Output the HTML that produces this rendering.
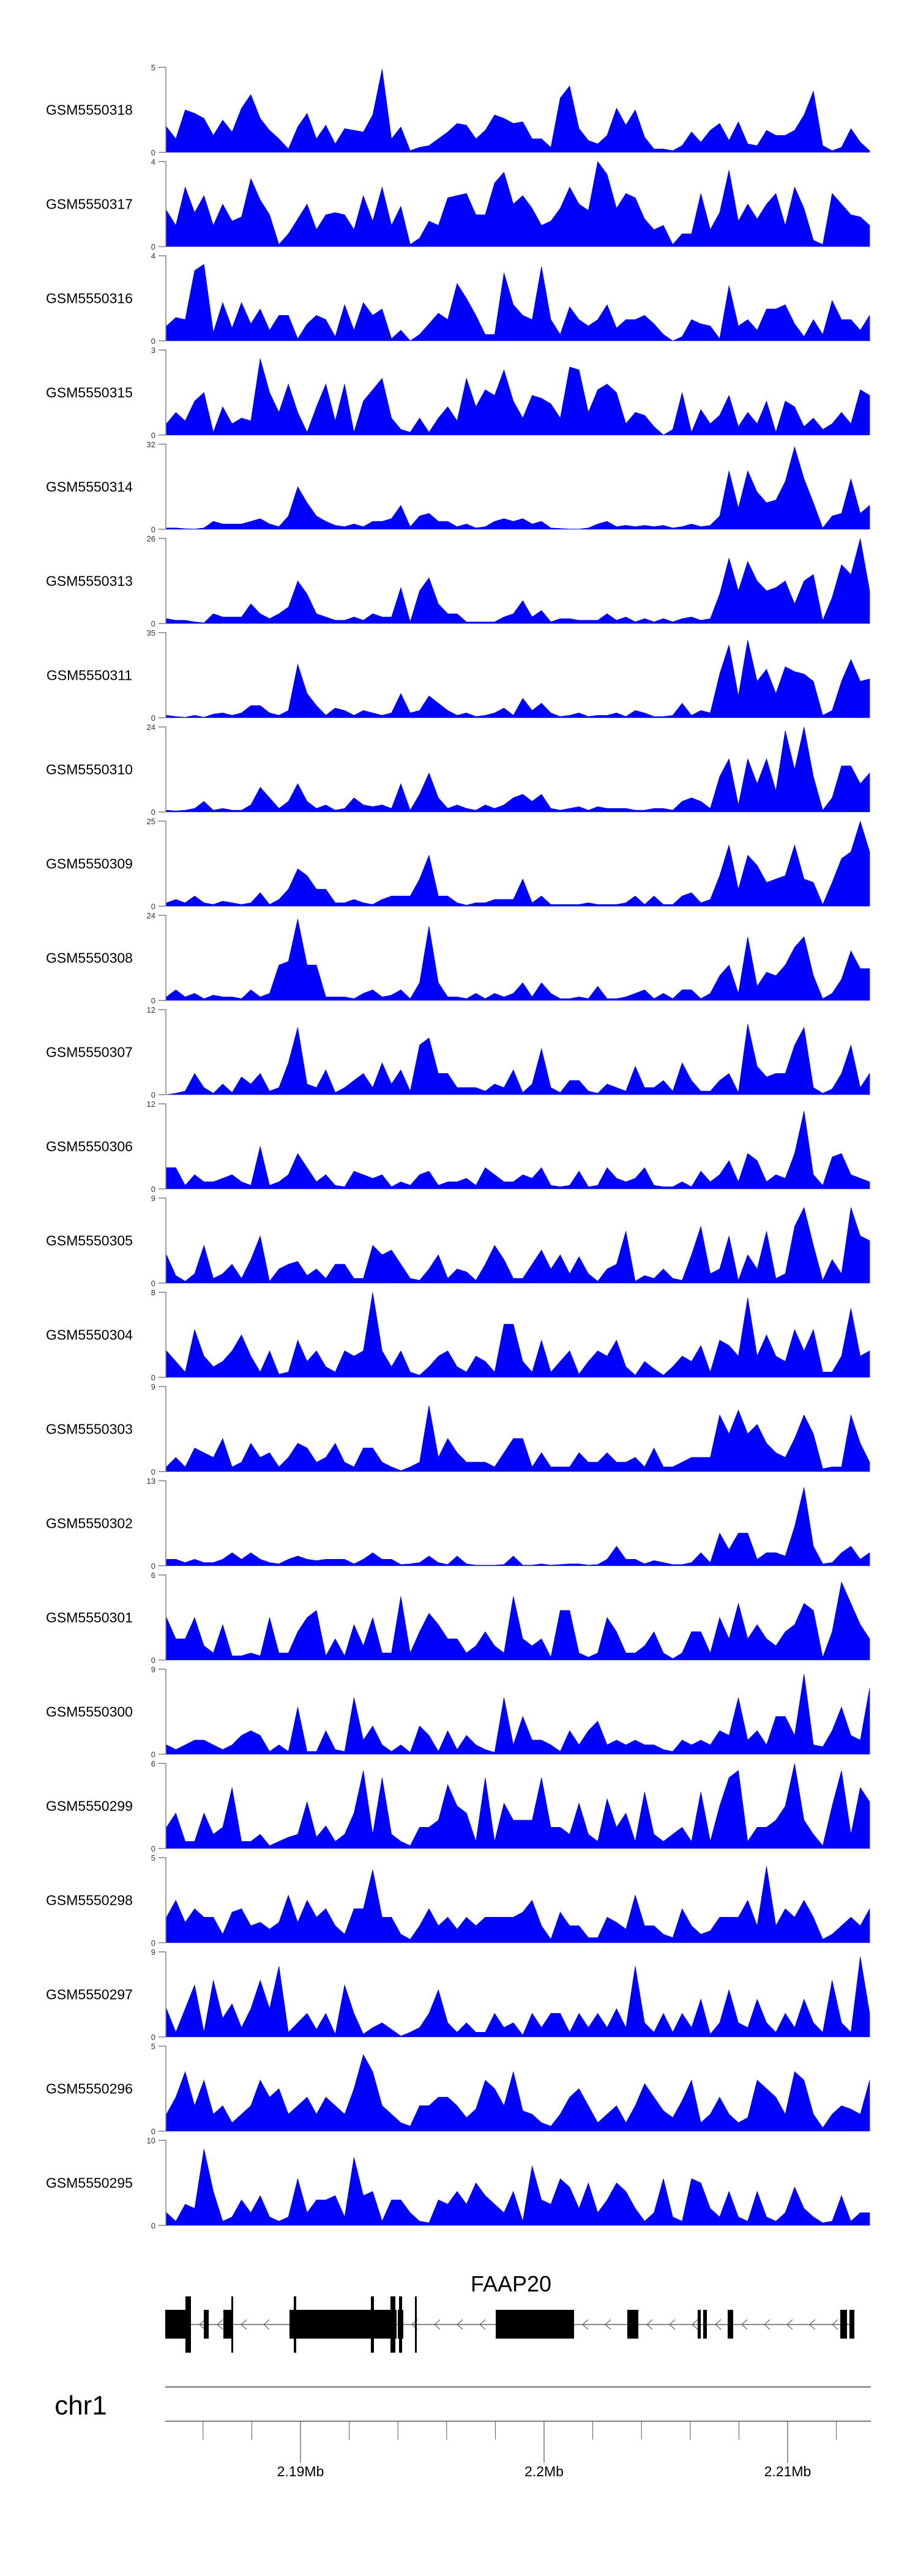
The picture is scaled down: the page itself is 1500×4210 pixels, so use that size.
<!DOCTYPE html>
<html><head><meta charset="utf-8">
<style>
html,body{margin:0;padding:0;background:#fff;}
svg{display:block;font-family:"Liberation Sans",Arial,sans-serif;}
</style></head>
<body>
<svg id="chart" width="1500" height="4210" viewBox="0 0 1500 4210" xmlns="http://www.w3.org/2000/svg">
<rect x="0" y="0" width="1500" height="4210" fill="#fff"/>
<g id="tracks"></g>
<g id="gene"></g>
<g id="ruler"></g>
</svg>
<script>
const sampleNames = ["GSM5550318","GSM5550317","GSM5550316","GSM5550315","GSM5550314","GSM5550313","GSM5550311","GSM5550310","GSM5550309","GSM5550308","GSM5550307","GSM5550306","GSM5550305","GSM5550304","GSM5550303","GSM5550302","GSM5550301","GSM5550300","GSM5550299","GSM5550298","GSM5550297","GSM5550296","GSM5550295"];
const yMax = [5,4,4,3,32,26,35,24,25,24,12,12,9,8,9,13,6,9,6,5,9,5,10];
const t318 = [1.5,0.8,2.5,2.3,2.0,1.0,1.9,1.2,2.6,3.4,2.0,1.3,0.8,0.2,1.5,2.3,0.8,1.6,0.5,1.4,1.3,1.2,2.2,4.9,0.8,1.5,0.1,0.3,0.4,0.8,1.2,1.7,1.6,0.8,1.3,2.2,2.0,1.7,1.8,0.8,0.8,0.3,3.2,3.9,1.4,0.7,0.5,1.0,2.6,1.6,2.5,0.9,0.2,0.2,0.1,0.4,1.2,0.6,1.3,1.7,0.7,1.8,0.5,0.4,1.3,1.0,1.0,1.3,2.2,3.6,0.4,0.1,0.3,1.4,0.6,0.1];
const t317 = [1.7,1.0,2.8,1.6,2.4,1.0,2.0,1.2,1.4,3.2,2.2,1.5,0.1,0.6,1.3,2.0,0.8,1.5,1.6,1.5,0.8,2.4,1.2,2.8,1.0,1.9,0.1,0.4,1.2,1.0,2.3,2.4,2.5,1.5,1.5,3.0,3.5,2.0,2.4,1.8,1.0,1.2,1.8,2.8,2.0,1.7,4.0,3.4,1.8,2.5,2.3,1.3,0.8,1.0,0.1,0.6,0.6,2.5,0.8,1.6,3.6,1.2,2.0,1.3,2.0,2.5,1.0,2.8,1.8,0.3,0.1,2.5,2.0,1.5,1.4,1.0];
const t316 = [0.7,1.1,1.0,3.3,3.6,0.4,1.8,0.6,1.8,0.8,1.5,0.5,1.2,1.2,0.1,0.8,1.2,1.0,0.2,1.7,0.5,1.8,1.2,1.5,0.1,0.5,0.0,0.3,0.8,1.3,1.0,2.7,2.0,1.2,0.3,0.3,3.2,1.7,1.2,1.0,3.5,1.0,0.3,1.6,1.0,0.7,1.0,1.7,0.6,1.0,1.0,1.2,0.8,0.3,0.0,0.2,1.0,0.8,0.7,0.1,2.6,0.7,1.0,0.5,1.5,1.5,1.7,0.8,0.2,1.0,0.3,1.9,1.0,1.0,0.5,1.2];
const t315 = [0.4,0.8,0.5,1.2,1.5,0.1,1.0,0.4,0.6,0.5,2.7,1.5,0.8,1.8,0.8,0.1,1.0,1.8,0.5,1.8,0.1,1.2,1.6,2.0,0.6,0.2,0.1,0.6,0.1,0.6,1.0,0.5,2.0,1.0,1.6,1.4,2.3,1.2,0.6,1.4,1.3,1.1,0.6,2.4,2.3,0.8,1.6,1.8,1.5,0.4,0.8,0.7,0.3,0.0,0.2,1.5,0.1,0.9,0.4,0.7,1.4,0.3,0.8,0.4,1.2,0.1,1.2,1.0,0.3,0.6,0.2,0.4,0.8,0.4,1.6,1.4];
const t314 = [0.5,0.5,0.2,0.1,0.5,3,2,2,2,3,4,2,1,5,16,10,5,3,1.5,1,2,1,3,3,4,9,1,5,6,3,3,1,2,0.5,1,3,4,3,4,2,3,0.5,0.3,0.1,0.1,0.5,2,3,1,1.5,1,1.5,1,1.5,0.5,1,2,1,1.5,5,22,8,22,14,10,11,18,31,19,10,0.5,5,6,19,6,9];
const t313 = [1.5,1,1,0.5,0.2,3,2,2,2,6,3,1.5,3,5,13,9,3,2,1,1,2,1,3,2,2,11,0.5,10,14,6,3,3,0.5,0.5,0.5,0.5,2,3,7,2,4,0.5,1.5,1.5,1,1,1,3,1,2,0.5,1.5,0.5,1.5,0.5,1.5,2,1,1.5,9,20,10,19,13,10,11,13,6,13,15,1,8,18,15,26,10];
const t311 = [1,0.5,0.2,1,0.2,1.5,2,1,2,5,5,2,1,3,22,10,5,1,4,3,1,3,2,1,2,10,2,3,9,6,3,1,2,0.5,1,2,4,1,8,3,6,2,0.5,1,2,0.5,1,1,2,0.5,3,2,0.5,0.5,1,6,1,3,2,18,30,9,32,15,20,10,21,19,18,15,1,3,15,24,15,16];
const t310 = [0.5,0.3,0.5,1,3,0.5,1,0.5,0.5,2,7,4,1,3,8,3,1,2,0.5,1,4,2,1.5,2,1,8,0.5,5,11,4,1,2,1,0.5,2,1,2,4,5,3,5,1,0.5,1,1.5,0.5,1.5,1,1,1,0.5,0.5,1,1,0.5,3,4,3,1,10,15,2,15,8,15,6,23,12,24,10,0.5,4,13,13,8,11];
const t309 = [1,2,1,3,1,0.5,1.5,1,0.5,1,4,0.5,2,5,11,9,5,5,1,1,2,1,0.5,2,3,3,3,8,15,3,3,1,0.3,1,1,2,2,2,8,1,3,0.5,0.5,0.5,0.5,1,0.5,0.5,0.5,1,3,0.5,3,0.5,0.5,3,4,1,2,9,18,5,15,12,7,8,9,18,8,7,0.5,7,14,16,25,16];
const t308 = [1,3,1,2,0.5,1.5,1,1,0.5,3,1,2,10,11,23,10,10,1,1,1,0.5,2,3,1,1.5,3,0.5,5,21,5,1,1,0.5,2,0.5,2,1,2,5,1,5,2,0.5,0.5,1,0.5,4,0.5,0.5,1,2,3,0.5,2,0.5,3,3,0.5,2,7,10,2,18,4,8,7,10,15,18,7,0.5,2,6,14,9,9];
const t307 = [0,0.2,0.5,3.0,1.0,0.2,1.5,0.3,2.5,1.5,3.0,0.5,1.0,4.5,9.5,1.5,1,3.5,0.3,1,2,3,1,4.5,1.5,3.5,0.5,7,8,3,3,1,1,1,0.5,1.5,1,3.5,0.3,1.5,6.5,1,0.3,2,2,0.5,0.2,1.5,1,0.5,4,1,1,2,0.5,4.5,2,0.5,0.5,2,3,0.3,10,4,2.5,3,3,7,9.5,1,0.2,0.8,3,7,1,3];
const t306 = [3,3,0.5,2,1,1,1.5,2,1,0.5,6,0.5,1,2,5,3,1,2,0.5,0.3,2.5,2,1.5,2,0.3,1,0.5,2,2.5,0.5,1,1,1.5,0.5,3,2,1,1,2,1.5,3,0.5,0.3,0.5,2.5,0.3,0.5,3,1.5,1,1.5,3,0.5,0.3,0.3,1,0.3,2.5,1,2,4,1,5,4,1,2,1.5,5,11,2,0.5,4.5,5,2,1.5,1];
const t305 = [3,0.8,0.2,1,4,0.5,1,2,0.5,2.5,5,0.2,1.5,2,2.3,0.8,1.5,0.5,2,2,0.5,0.5,4,3,3.5,2,0.5,0.3,1.5,3,0.5,1.5,1.2,0.3,2,4,2.5,0.5,0.5,2,3.5,1.5,3,1,2.8,1,0.2,1.5,2,5.5,0.2,0.8,0.5,1.5,0.5,0.3,3,6,1,1.5,5,0.3,3,1.5,5.5,0.5,1,6,8,4,0.3,2.5,1,8,5,4.5];
const t304 = [2.5,1.5,0.5,4.5,2,1,1.5,2.5,4,2,0.5,2.5,0.3,0.5,3.5,1.5,2.5,1,0.5,2.5,2,2.5,8,2.5,1,2.5,0.5,0.2,1,2,2.5,1,0.5,2,1.5,0.5,5,5,1.5,0.5,3.5,0.5,1.5,2.5,0.3,1.5,2.5,2,3.5,1,0.2,1.5,0.8,0.2,1,2,1.5,3,0.5,3.5,3,2,7.5,2,4,2,1.5,4.5,2.5,4.5,0.5,0.5,2,6.5,2,2.5];
const t303 = [0.5,1.5,0.5,2.5,2,1.5,3.5,0.5,1,3,1.5,2,0.5,1.5,3,2.5,1,1.5,3,1,0.5,2.5,2.5,1,0.5,0.1,0.5,1,7,1.5,3.5,2,1,1,1,0.5,2,3.5,3.5,0.5,2,0.5,0.5,0.5,2,1,1,2,1,1,1.5,0.5,2.5,0.5,0.5,1,1.5,1.5,1.5,6,4,6.5,4,5,3,2,1.5,3.5,6,4,0.3,0.5,0.5,6,3,1];
const t302 = [1,1,0.5,1,0.5,0.5,1,2,1,2,1,0.5,0.3,1,1.5,1,0.8,1,1,1,0.3,1,2,1,1,0.2,0.3,0.5,1.5,0.5,0.2,1.5,0.3,0.1,0.1,0.1,0.2,1.5,0.1,0.1,0.3,0.1,0.2,0.3,0.3,0.1,0.2,1,3,1,1,0.3,0.8,0.5,0.2,0.2,0.5,2,0.5,5,2.5,5,5,1,2,2,1.5,6,12,3,0.3,0.5,2,3,1,2];
const t301 = [3,1.5,1.5,3,1,0.5,2.5,0.3,0.3,0.5,0.3,3,0.5,0.5,2,3,3.5,0.3,1.5,0.3,2.5,1,3,0.5,0.5,4.5,0.5,2,3.3,2.5,1.5,1.5,0.5,1,2,1,0.5,4.5,1.5,1,1.5,0.2,3.5,3.5,0.5,0.2,0.5,3,2,0.5,0.5,1,2,0.5,0.1,0.5,2,2,0.5,3,1.5,4,1.5,2.5,1.5,1,2,2.5,4,3.5,0.2,2,5.5,4,2.5,1.5];
const t300 = [1,0.5,1,1.5,1.5,1,0.5,1,2,2.5,2,0.3,1,0.3,5,0.3,0.3,2.5,0.5,0.3,6,1.5,3,1,0.3,1,0.2,3,2,0.3,2.5,0.5,2,1,0.5,0.2,6,1,4,1.5,1.5,1,0.3,2.5,1,2.5,3.5,1,1.5,1,1.5,1,1,0.5,0.3,1.5,1,1.5,1,2.5,2,6,1.5,2.5,1,4,4,2,8.5,1,0.8,2.5,5,2,1.5,7];
const t299 = [1.5,2.5,0.5,0.5,2.5,1,1.5,4.3,0.5,0.5,1,0.2,0.5,0.8,1,3.3,0.8,1.6,0.5,1,2.5,5.5,1,5,1,0.5,0.2,1.5,1.5,2,4.5,3,2.5,0.5,5,0.5,3.2,2,2,2,5,1.5,1.5,1,3.2,1,0.5,3.5,1.5,2.5,0.5,4,1,0.5,1,1.5,0.5,4,0.5,3,5,5.5,0.5,1.5,1.5,2,3,6,2,1,0.2,3,5.5,1,4.3,3.3];
const t298 = [1.5,2.5,1.2,2,1.5,1.5,0.5,1.8,2,1,1.2,0.8,1.2,2.8,1.2,2.5,1.5,2,1,0.5,2,2,4.3,1.5,1.5,0.5,0.2,1,2,1,1.5,0.8,1.5,1,1.5,1.5,1.5,1.5,1.8,2.5,1,0.2,1.8,1,1,0.3,0.3,1.5,1.2,0.8,2.8,1,1,0.5,0.3,2,1,0.5,0.7,1.5,1.5,1.5,2.5,1,4.5,1,2,1.5,2.5,1.5,0.2,0.5,1,1.5,1,2];
const t297 = [3,0.5,3,5.5,0.5,6,2,3.5,1,3,6,3,7.5,0.5,1.5,2.5,0.8,2.5,0.3,5.5,2.5,0.3,1,1.5,0.8,0.1,0.5,1,2.5,5,1.5,0.5,1.5,0.5,0.5,2.5,1,1.5,0.2,2.5,1,2.5,2.5,0.5,2.5,1,2.5,1,3,1,7.5,1.5,0.5,2.5,0.5,2.5,1,4,0.3,1.5,5,1.5,1,4,1.5,0.5,2.5,1,4,1.5,0.5,6,1.5,0.5,8.5,2.5];
const t296 = [1,2,3.5,1.5,3,1,1.5,0.5,1,1.5,3,2,2.5,1,1.5,2,1,2,1.5,1,2.5,4.5,3.5,1.5,1,0.5,0.3,1.5,1.5,2,2,1.5,0.8,1.3,3,2.5,1.5,3.5,1.2,1,0.5,0.3,1,2,2.5,1.5,0.5,1,1.5,0.5,1.5,2.8,2,1.2,0.8,1.8,3,0.5,1,2,1,0.5,0.8,3,2.5,2,1,3.5,3,1,0.2,1,1.5,1.3,1,3];
const t295 = [1.5,0.5,2.5,2,9,4,0.5,1,3,1.5,3.5,1,0.5,1,5.5,1.5,3,3,3.5,1,8,3.5,4,0.5,3,3,1.5,0.5,0.3,3,2.5,4,2.5,5,3.5,2.5,1.5,4,0.5,7,3,2.5,5.5,4.5,2,5,1.5,3,5,4,2,0.5,1.5,5.5,1,0.5,5.5,5,2,1,4,1,0.5,4,1,0.5,1.5,4.5,2,1,0.3,0.5,3.5,0.5,1.5,1.5];
const seriesValues = [t318,t317,t316,t315,t314,t313,t311,t310,t309,t308,t307,t306,t305,t304,t303,t302,t301,t300,t299,t298,t297,t296,t295];

// gene model (genomic bp)
const geneName = "FAAP20";
const exonStarts = [2184447,2186030,2186834,2189548,2193995,2198015,2203417,2206307,2206533,2207538,2212161,2212538];
const exonEnds   = [2185502,2186231,2187211,2193945,2194221,2201231,2203870,2206432,2206684,2207764,2212438,2212739];
const cdsStarts = [2185276,2187161,2189724,2192889,2193694,2194045,2194699];
const cdsEnds   = [2185502,2187236,2189824,2193015,2193895,2194171,2194774];
const regionStart = 2184497, regionEnd = 2213367;
const majorTicks = [2190000,2200000,2210000];
const majorLabels = ["2.19Mb","2.2Mb","2.21Mb"];
const minorTicks = [2186000,2188000,2190000,2192000,2194000,2196000,2198000,2200000,2202000,2204000,2206000,2208000,2210000,2212000];

const NS="http://www.w3.org/2000/svg";
function mk(tag, attrs, parent){const e=document.createElementNS(NS,tag);for(const k in attrs)e.setAttribute(k,attrs[k]);parent.appendChild(e);return e;}
const X0=272, X1=1421;
function gx(bp){return X0+(bp-regionStart)/(regionEnd-regionStart)*(X1-X0);}
function sx(i,n){return X0+i*(X1-X0)/(n-1);}
const TOP0=110, PITCH=154, H=139;

const tracks=document.getElementById('tracks');
seriesValues.forEach((vals,t)=>{
  const top=TOP0+t*PITCH, base=top+H, mx=yMax[t];
  const g=mk('g',{},tracks);
  
  
  const lab=mk('text',{x:146,y:top+H/2+8,'text-anchor':'middle','font-size':23,fill:'#000'},g);
  lab.textContent=sampleNames[t];
  
  
  const ax=mk('path',{d:`M259 ${top}H271V${base}H259`,fill:'none',stroke:'#808080','stroke-width':1.5},g);
  
  
  const tTop=mk('text',{x:254,y:top+5,'text-anchor':'end','font-size':13,fill:'#333'},g);
  tTop.textContent=String(mx);
  
  
  const tBot=mk('text',{x:254,y:base+5,'text-anchor':'end','font-size':13,fill:'#333'},g);
  tBot.textContent="0";
  
  
  let d=`M${X0} ${base}`;
  vals.forEach((v,i)=>{const y=base-Math.min(v,mx)/mx*H;d+=`L${sx(i,vals.length).toFixed(1)} ${y.toFixed(1)}`;});
  d+=`L${X1} ${base}Z`;
  const area=mk('path',{d:d,fill:'#0000ff',stroke:'#0000cc','stroke-width':0.6},g);
  
  
});

// gene track
const gene=document.getElementById('gene');
const LINEY=3799;
const gl=mk('text',{x:835,y:3745,'text-anchor':'middle','font-size':36,fill:'#000'},gene);
gl.textContent=geneName;


const gline=mk('line',{x1:gx(exonStarts[0]),x2:gx(exonEnds[exonEnds.length-1]),y1:LINEY,y2:LINEY,stroke:'#888','stroke-width':2},gene);


for(let i=0;i<exonStarts.length-1;i++){
  const a=gx(exonEnds[i]), b=gx(exonStarts[i+1]);
  for(let x=a+14;x<b-6;x+=37){
    const c=mk('path',{d:`M${x+9} ${LINEY-8}L${x} ${LINEY}L${x+9} ${LINEY+8}`,fill:'none',stroke:'#666','stroke-width':1.2},gene);
    
    
  }
}
exonStarts.forEach((s,i)=>{
  const r=mk('rect',{x:gx(s),y:3775,width:Math.max(1.5,gx(exonEnds[i])-gx(s)),height:47,fill:'#000'},gene);
  
  
});
cdsStarts.forEach((s,i)=>{
  const r=mk('rect',{x:gx(s),y:3753,width:Math.max(2,gx(cdsEnds[i])-gx(s)),height:92,fill:'#000'},gene);
  
  
});

// ruler
const ruler=document.getElementById('ruler');
const chr=mk('text',{x:132,y:3946,'text-anchor':'middle','font-size':44,fill:'#000'},ruler);
chr.textContent="chr1";


const l1=mk('line',{x1:270,x2:1423,y1:3901,y2:3901,stroke:'#444','stroke-width':1.5},ruler);


const l2=mk('line',{x1:270,x2:1423,y1:3957,y2:3957,stroke:'#555','stroke-width':1.5},ruler);


minorTicks.forEach(bp=>{
  const t=mk('line',{x1:gx(bp),x2:gx(bp),y1:3957,y2:3987,stroke:'#555','stroke-width':1},ruler);
  
  
});
majorTicks.forEach((bp,i)=>{
  const t=mk('line',{x1:gx(bp),x2:gx(bp),y1:3957,y2:4025,stroke:'#333','stroke-width':1},ruler);
  
  
  const tx=mk('text',{x:gx(bp),y:4047,'text-anchor':'middle','font-size':23,fill:'#000'},ruler);
  tx.textContent=majorLabels[i];
  
  
});
</script>
</body></html>
